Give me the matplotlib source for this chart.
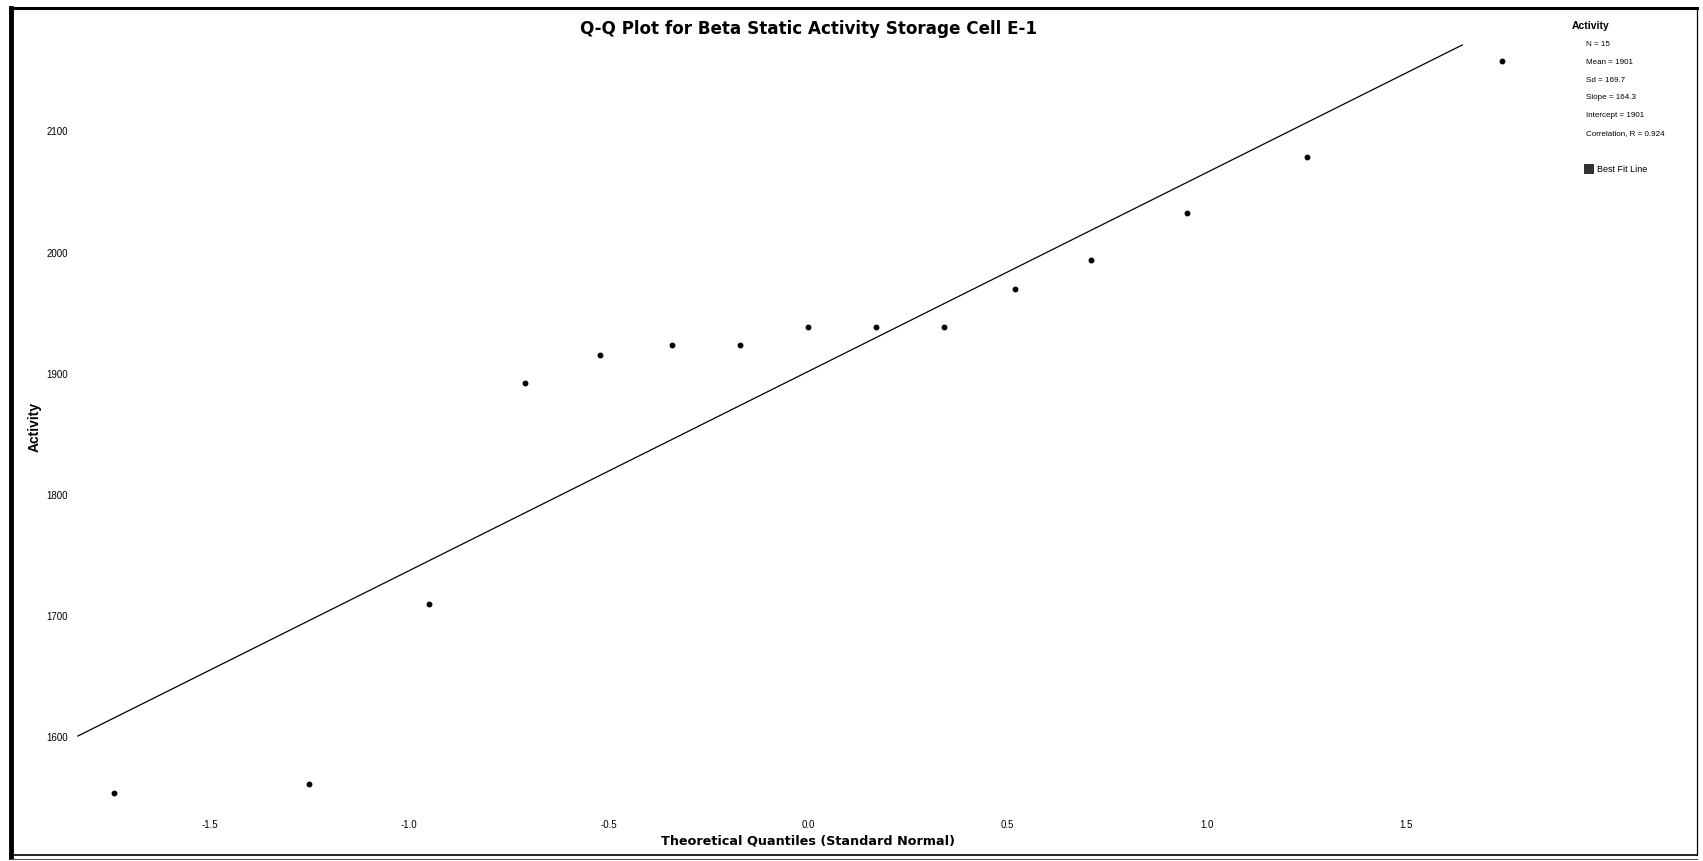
import matplotlib
matplotlib.use("Agg")
import matplotlib.pyplot as plt
from matplotlib.lines import Line2D
from matplotlib.patches import Rectangle

plt.rcParams['font.family'] = ['Liberation Sans', 'DejaVu Sans']

# ---- data ----
theoretical_q = [-1.74, -1.25, -0.95, -0.71, -0.52, -0.34, -0.17, 0.0,
                 0.17, 0.34, 0.52, 0.71, 0.95, 1.25, 1.74]
activity = [1553, 1561, 1709, 1892, 1915, 1923, 1923, 1938,
            1938, 1938, 1969, 1993, 2032, 2078, 2157]
fit_x = [-1.83, 1.64]
slope = 164.3
intercept = 1901
stats_lines = ["N = 15", "Mean = 1901", "Sd = 169.7", "Slope = 164.3",
               "Intercept = 1901", "Correlation, R = 0.924"]
x_ticks = [-1.5, -1.0, -0.5, 0.0, 0.5, 1.0, 1.5]
x_ticklabels = ["-1.5", "-1.0", "-0.5", "0.0", "0.5", "1.0", "1.5"]
y_ticks = [1600, 1700, 1800, 1900, 2000, 2100]
y_ticklabels = ["1600", "1700", "1800", "1900", "2000", "2100"]

W, H = 1703, 862
fig = plt.figure(figsize=(W / 100, H / 100), dpi=100)
fig.patch.set_facecolor("white")

# axes placement (pixels)
ax_l, ax_r, ax_t, ax_b = 69, 1566, 34.4, 812
ax = fig.add_axes([ax_l / W, (H - ax_b) / H, (ax_r - ax_l) / W, (ax_b - ax_t) / H])
ax.set_xlim(-1.852, 1.9)
ax.set_ylim(1538.5, 2180)
for s in ax.spines.values():
    s.set_visible(False)

fit_y = [intercept + slope * v for v in fit_x]
ax.plot(fit_x, fit_y, color="black", lw=0.9)
ax.plot(theoretical_q, activity, "o", color="black", ms=3.2, mec="black")

ax.set_xticks(x_ticks)
ax.set_xticklabels(x_ticklabels)
ax.set_yticks(y_ticks)
ax.set_yticklabels(y_ticklabels)
ax.tick_params(axis="both", length=0, labelsize=7)
ax.tick_params(axis="x", pad=6)
ax.tick_params(axis="y", pad=1)

fig.text(808 / W, 1 - 29 / H, "Q-Q Plot for Beta Static Activity Storage Cell E-1",
         ha="center", va="center", fontsize=12.1, fontweight="bold",
         family=["DejaVu Sans"])
fig.text(808 / W, 1 - 841 / H, "Theoretical Quantiles (Standard Normal)",
         ha="center", va="center", fontsize=9.2, fontweight="bold",
         family=["DejaVu Sans"])
fig.text(35 / W, 1 - 427 / H, "Activity", rotation=90,
         ha="center", va="center", fontsize=10, fontweight="bold")

# legend / stats box text
fig.text(1572 / W, 1 - 26 / H, "Activity", ha="left", va="center",
         fontsize=7.5, fontweight="bold")
y0 = 44.5
for i, t in enumerate(stats_lines):
    fig.text(1586 / W, 1 - (y0 + i * 17.8) / H, t, ha="left", va="center", fontsize=5.8)
fig.add_artist(Rectangle((1584 / W, 1 - 174 / H), 9 / W, 9 / H,
                         transform=fig.transFigure, facecolor="#333333",
                         edgecolor="black", lw=0.5))
fig.text(1597 / W, 1 - 169.5 / H, "Best Fit Line", ha="left", va="center", fontsize=6.5)

# outer frame
fig.add_artist(Line2D([11 / W, 11 / W], [1 - 9 / H, 1 - 858 / H],
                      transform=fig.transFigure, color="black", lw=3.5))
fig.add_artist(Line2D([11 / W, 1697 / W], [1 - 9 / H, 1 - 9 / H],
                      transform=fig.transFigure, color="black", lw=2.2))
fig.add_artist(Line2D([1697 / W, 1697 / W], [1 - 9 / H, 1 - 856 / H],
                      transform=fig.transFigure, color="black", lw=0.9))
fig.add_artist(Line2D([11 / W, 1697 / W], [1 - 856 / H, 1 - 856 / H],
                      transform=fig.transFigure, color="black", lw=1.2))
fig.add_artist(Line2D([11 / W, 1697 / W], [1 - 859.5 / H, 1 - 859.5 / H],
                      transform=fig.transFigure, color="#555555", lw=0.8))

fig.savefig("out.png", dpi=100, facecolor="white")
